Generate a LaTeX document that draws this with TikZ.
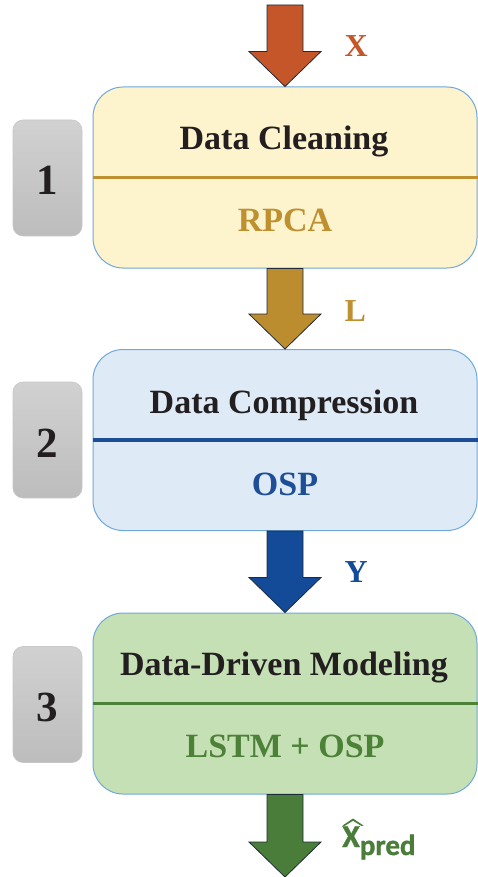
\documentclass[tikz,border=0pt]{standalone}
\usepackage{fontspec}
\setmainfont{Liberation Serif}
\newfontfamily\carlito[BoldFeatures={FakeBold=1.2}]{Carlito}
\usetikzlibrary{calc}
\definecolor{orangeA}{HTML}{C4562A}
\definecolor{goldA}{HTML}{BB8D2E}
\definecolor{goldT}{HTML}{BF9030}
\definecolor{yellowF}{HTML}{FDF3CC}
\definecolor{blueF}{HTML}{DEEBF7}
\definecolor{blueA}{HTML}{134B99}
\definecolor{blueT}{HTML}{1F4E99}
\definecolor{greenF}{HTML}{C5E0B4}
\definecolor{greenA}{HTML}{4A7D39}
\definecolor{greenT}{HTML}{4C8138}
\definecolor{boxedge}{HTML}{6FA8DC}
\definecolor{arrowedge}{HTML}{1E2B3A}
\definecolor{textdark}{HTML}{231F20}
\newcommand\blockarrow[3]{%
  \filldraw[fill=#3, draw=arrowedge, line width=0.8pt, line join=miter]
    ($(#1)+(-18,0)$) -- ($(#2)+(-18,-35)$) -- ($(#2)+(-36,-35)$) -- (#2)
    -- ($(#2)+(36,-35)$) -- ($(#2)+(18,-35)$) -- ($(#1)+(18,0)$) -- cycle;}
\begin{document}
\begin{tikzpicture}[x=1pt,y=-1pt,
  stage/.style={draw=boxedge, line width=1pt, rounded corners=30pt,
    minimum width=384pt, minimum height=181pt, inner sep=0pt},
  badge/.style={draw=black!22, line width=0.6pt, rounded corners=10pt,
    top color=black!18, bottom color=black!26,
    minimum width=69pt, minimum height=116pt, inner sep=0pt},
  digit/.style={anchor=base, font=\fontsize{43}{43}\selectfont\bfseries, text=textdark},
  title/.style={anchor=base, font=\fontsize{34}{36}\selectfont\bfseries, text=textdark},
  method/.style={anchor=base, font=\fontsize{34}{36}\selectfont\bfseries},
  flowlabel/.style={anchor=base west, font=\fontsize{32}{32}\selectfont\bfseries},
  divider/.style={line width=3.5pt}]
\useasboundingbox (0,0) rectangle (478,877);
% stages
\node[stage, fill=yellowF] (b1) at (285,177.5) {};
\node[stage, fill=blueF]   (b2) at (285,440) {};
\node[stage, fill=greenF]  (b3) at (285,703.5) {};
\draw[divider, goldT]  (b1.west) -- (b1.east);
\draw[divider, blueT]  (b2.west) -- (b2.east);
\draw[divider, greenT] (b3.west) -- (b3.east);
\node[title]  (t1) at (284,150) {Data Cleaning};
\node[method, text=goldT] (m1) at (285,232) {RPCA};
\node[title]  (t2) at (284,413) {Data Compression};
\node[method, text=blueT] (m2) at (285,495) {OSP};
\node[title]  (t3) at (284,675) {Data-Driven Modeling};
\node[method, text=greenT] (m3) at (285,757) {LSTM + OSP};
% badges
\node[badge] (n1) at (47.5,178) {};
\node[badge] (n2) at (47.5,440) {};
\node[badge] (n3) at (47.5,704.5) {};
\node[digit] at (47.5,195) {1};
\node[digit] at (47.5,457) {2};
\node[digit] at (47.5,721) {3};
% arrows
\coordinate (in) at (285,5);
\coordinate (out) at (285,877);
\blockarrow{in}{b1.north}{orangeA}
\blockarrow{b1.south}{b2.north}{goldA}
\blockarrow{b2.south}{b3.north}{blueA}
\blockarrow{b3.south}{out}{greenA}
% labels
\node[flowlabel, text=orangeA] (lx) at (341,57) {X};
\node[flowlabel, text=goldT] (ll) at (341,321) {L};
\node[flowlabel, text=blueA] (ly) at (341,582) {Y};
\node[anchor=base west, inner sep=0pt, text=greenA,
  font=\carlito\bfseries\fontsize{32}{32}\selectfont] (lp) at (342,847)
  {X\raisebox{-8pt}{\fontsize{29}{29}\selectfont pred}};
\fill[greenA] (342.5,825.5) -- (353,818.5) -- (363.5,825.5) -- (361.5,826) -- (353,820.8) -- (344.5,826) -- cycle;
\end{tikzpicture}
\end{document}
